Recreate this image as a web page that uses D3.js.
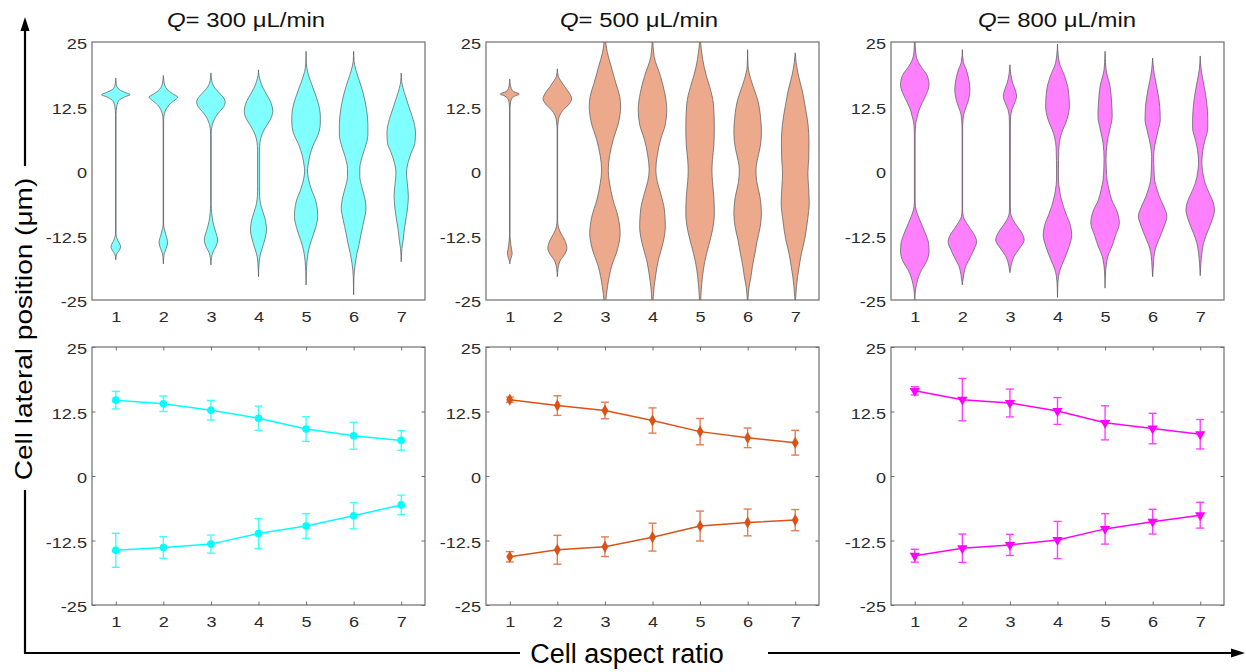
<!DOCTYPE html>
<html>
<head>
<meta charset="utf-8">
<script src="https://cdn.jsdelivr.net/npm/d3@7"></script>
<style>
  body { margin: 0; background: #fff; }
  svg { display: block; font-family: "Liberation Sans", Arial, sans-serif; }
  .tick text { fill: #2b2b2b; }
</style>
</head>
<body>
<div id="chart"></div>
<script>
(function () {
    "use strict";

    // ---- data ---------------------------------------------------------
    const categories = [1, 2, 3, 4, 5, 6, 7];          // cell aspect ratio
    const yTicks = [-25, -12.5, 0, 12.5, 25];
    const flowRates = [300, 500, 800];                  // Q, µL/min

    // violin profiles: [position (µm), half width (x units)]
    const violin300 = [
        [[18, 0], [17, 0.01], [16.4, 0.025], [15.8, 0.07], [15.2, 0.2], [14.8, 0.3], [14.4, 0.2], [13.8, 0.08], [13.2, 0.04], [12.5, 0.02], [11, 0.006], [-12, 0.006], [-12.7, 0.015], [-13.6, 0.05], [-14.3, 0.09], [-14.8, 0.1], [-15.4, 0.07], [-16, 0.025], [-16.5, 0.01], [-17.2, 0]],
        [[18.5, 0], [17.5, 0.01], [16.6, 0.03], [15.8, 0.08], [15, 0.19], [14.3, 0.3], [13.6, 0.22], [12.8, 0.12], [12, 0.06], [11.2, 0.025], [10.5, 0.01], [9.5, 0.005], [-10.5, 0.005], [-11.2, 0.02], [-12.3, 0.05], [-13.9, 0.09], [-15, 0.06], [-16, 0.02], [-16.8, 0.008], [-18, 0]],
        [[19, 0], [18, 0.01], [17, 0.03], [16, 0.09], [15, 0.19], [14, 0.28], [13.3, 0.3], [12.5, 0.27], [11.5, 0.18], [10.5, 0.1], [9.3, 0.04], [8.3, 0.015], [7, 0.006], [-6.5, 0.006], [-8, 0.015], [-10, 0.045], [-11.5, 0.09], [-13.4, 0.14], [-14.7, 0.1], [-15.8, 0.04], [-16.8, 0.012], [-18.2, 0]],
        [[19.6, 0], [18.5, 0.01], [17.4, 0.04], [16, 0.1], [15, 0.16], [13.5, 0.25], [11.5, 0.3], [10, 0.25], [8.5, 0.15], [7, 0.07], [5.5, 0.03], [4, 0.02], [-4, 0.02], [-5.6, 0.03], [-7, 0.06], [-9, 0.13], [-11.4, 0.17], [-13, 0.14], [-14.6, 0.09], [-16.5, 0.03], [-18, 0.012], [-20.5, 0]],
        [[23.2, 0], [21, 0.005], [19.3, 0.03], [17.5, 0.09], [15.5, 0.17], [13, 0.26], [10.5, 0.3], [9.3, 0.3], [7.5, 0.27], [5, 0.15], [3, 0.08], [1, 0.04], [0, 0.03], [-1.5, 0.05], [-3.5, 0.11], [-6, 0.21], [-8.8, 0.245], [-11, 0.2], [-13.5, 0.11], [-15.5, 0.05], [-17.5, 0.02], [-19.5, 0.006], [-22.1, 0]],
        [[23.2, 0], [21.2, 0.01], [19.5, 0.05], [17.5, 0.12], [15.1, 0.2], [12, 0.27], [9, 0.3], [7, 0.3], [4.5, 0.24], [2.5, 0.17], [0.5, 0.13], [-1.1, 0.13], [-3, 0.17], [-5.5, 0.24], [-7.2, 0.26], [-9.5, 0.22], [-12, 0.16], [-14, 0.12], [-16, 0.07], [-17.9, 0.035], [-20.5, 0.007], [-24, 0]],
        [[19, 0], [17.4, 0.01], [16, 0.04], [14.5, 0.09], [12.5, 0.16], [10, 0.25], [7.5, 0.3], [5.5, 0.29], [3.5, 0.21], [1.5, 0.14], [-0.4, 0.11], [-2.5, 0.13], [-4.9, 0.15], [-7, 0.135], [-8.8, 0.11], [-11, 0.07], [-13.4, 0.04], [-15, 0.015], [-17.6, 0]]
    ];
    const violin500 = [
        [[17.8, 0], [16.8, 0.01], [16, 0.03], [15.4, 0.08], [14.9, 0.2], [14.5, 0.1], [14, 0.04], [13.2, 0.014], [12, 0.005], [-12.5, 0.005], [-13.2, 0.01], [-14.5, 0.025], [-16, 0.05], [-16.8, 0.03], [-17.6, 0.005], [-18, 0]],
        [[19.8, 0], [18.3, 0.02], [17.5, 0.07], [16.4, 0.15], [15, 0.26], [14, 0.3], [13, 0.25], [11.9, 0.13], [10.8, 0.05], [9.3, 0.015], [8, 0.005], [-9.5, 0.005], [-10.8, 0.02], [-12, 0.07], [-13.5, 0.16], [-15, 0.2], [-16.2, 0.15], [-17.2, 0.07], [-18.9, 0.015], [-20.5, 0]],
        [[25.5, 0.01], [23, 0.05], [20.3, 0.13], [17, 0.23], [14.5, 0.31], [12.5, 0.33], [9.5, 0.29], [6.1, 0.175], [3, 0.1], [0.2, 0.07], [-2.5, 0.1], [-5.6, 0.17], [-9, 0.28], [-12.1, 0.32], [-15, 0.27], [-18.5, 0.14], [-22.4, 0.055], [-25.5, 0.015]],
        [[25.5, 0.005], [22.2, 0.035], [18.3, 0.17], [15, 0.26], [11.9, 0.3], [9, 0.27], [6.1, 0.17], [3, 0.1], [0.2, 0.07], [-2, 0.1], [-4.3, 0.17], [-7.5, 0.25], [-10.8, 0.27], [-14, 0.22], [-17.2, 0.125], [-20, 0.07], [-22.4, 0.035], [-25.5, 0.01]],
        [[25.5, 0.005], [21.6, 0.056], [18.5, 0.13], [16.4, 0.2], [13, 0.28], [8.6, 0.3], [5, 0.29], [2.2, 0.26], [0, 0.25], [-2, 0.26], [-5, 0.29], [-8.2, 0.3], [-11.5, 0.26], [-14.5, 0.18], [-17.5, 0.1], [-20.5, 0.05], [-23, 0.025], [-25.5, 0.01]],
        [[23.5, 0], [20.3, 0.01], [17.7, 0.07], [15.5, 0.15], [13.8, 0.21], [10.5, 0.27], [7.3, 0.29], [4.5, 0.26], [2, 0.2], [0.2, 0.175], [-2, 0.19], [-5, 0.26], [-8.2, 0.29], [-11, 0.26], [-13.5, 0.2], [-15.9, 0.155], [-18.5, 0.1], [-20.5, 0.07], [-22.5, 0.03], [-24.5, 0.01], [-25.5, 0.005]],
        [[22.9, 0], [21, 0.02], [19, 0.056], [15.5, 0.15], [12.5, 0.21], [9, 0.27], [5.4, 0.29], [2.5, 0.285], [-0.4, 0.266], [-3, 0.28], [-6.2, 0.295], [-9.5, 0.26], [-13.4, 0.196], [-16, 0.13], [-18.5, 0.084], [-20.5, 0.05], [-22.4, 0.028], [-24.5, 0.01], [-25.5, 0.005]]
    ];
    const violin800 = [
        [[25.5, 0.005], [22.9, 0.02], [21.2, 0.07], [20.3, 0.126], [18.5, 0.26], [16.7, 0.3], [15, 0.25], [13.2, 0.154], [11.5, 0.08], [10.6, 0.056], [9.5, 0.025], [8.6, 0.014], [7, 0.008], [-6, 0.008], [-6.9, 0.014], [-8.2, 0.05], [-9.5, 0.105], [-12.1, 0.224], [-14, 0.29], [-15.6, 0.3], [-17.5, 0.25], [-19.2, 0.14], [-20.5, 0.08], [-21.8, 0.042], [-23.5, 0.01], [-25.5, 0]],
        [[23.5, 0], [21.2, 0.02], [19.6, 0.084], [18, 0.13], [15.75, 0.16], [13.8, 0.13], [12.5, 0.084], [11, 0.03], [9.9, 0.014], [8, 0.006], [-7.5, 0.006], [-8.8, 0.02], [-10.8, 0.14], [-12.5, 0.26], [-13.7, 0.3], [-15.3, 0.24], [-17.2, 0.14], [-18.5, 0.07], [-19.8, 0.035], [-22.1, 0]],
        [[20.6, 0], [18.7, 0.02], [17, 0.06], [15.5, 0.12], [14.5, 0.14], [13.2, 0.1], [11.9, 0.042], [10.5, 0.015], [9.3, 0.01], [-7, 0.008], [-8.2, 0.015], [-10.1, 0.105], [-11.7, 0.23], [-13.4, 0.3], [-15, 0.2], [-16.6, 0.084], [-18.5, 0.021], [-19.7, 0]],
        [[24.6, 0], [22.5, 0.015], [20.9, 0.042], [18.3, 0.154], [15.5, 0.23], [12.5, 0.25], [10, 0.2], [7.3, 0.084], [5.5, 0.04], [4.1, 0.028], [0, 0.02], [-1.75, 0.021], [-3.5, 0.04], [-5.6, 0.084], [-8.2, 0.175], [-10.5, 0.27], [-12.4, 0.3], [-14.5, 0.25], [-17.2, 0.14], [-19, 0.06], [-20.5, 0.021], [-22.5, 0.005], [-24.5, 0]],
        [[23.2, 0], [21, 0.01], [19.6, 0.021], [16.4, 0.105], [13, 0.14], [10.6, 0.15], [8, 0.1], [5.4, 0.042], [2.2, 0.021], [0, 0.028], [-1.75, 0.042], [-3.5, 0.08], [-5.6, 0.14], [-8, 0.26], [-10.1, 0.3], [-12.5, 0.22], [-14.7, 0.14], [-16.5, 0.06], [-17.2, 0.042], [-19.2, 0.014], [-22.7, 0]],
        [[21.9, 0], [19.6, 0.021], [17.5, 0.06], [15.75, 0.098], [12.5, 0.15], [9.9, 0.16], [8, 0.12], [6.05, 0.07], [4, 0.03], [2.8, 0.021], [0, 0.03], [-1.75, 0.042], [-3.5, 0.09], [-4.9, 0.14], [-7, 0.24], [-8.8, 0.3], [-10.5, 0.25], [-13.4, 0.126], [-15, 0.06], [-16.6, 0.028], [-18.5, 0.014], [-20.5, 0]],
        [[22.3, 0], [19.6, 0.021], [18, 0.05], [16.4, 0.084], [13, 0.14], [10, 0.16], [8.3, 0.16], [6, 0.1], [4.75, 0.07], [1.5, 0.035], [0, 0.05], [-2.4, 0.105], [-4.5, 0.2], [-6, 0.27], [-7.5, 0.3], [-9.5, 0.25], [-12.1, 0.14], [-14, 0.07], [-15.9, 0.035], [-17.9, 0.014], [-20.3, 0]]
    ];

    // mean lateral position of the upper / lower cell populations, with error
    const upper300 = [14.7, 14.0, 12.75, 11.2, 9.1, 7.8, 6.9];
    const upper300Err = [1.7, 1.5, 1.9, 2.35, 2.4, 2.6, 1.9];
    const lower300 = [-14.4, -13.85, -13.2, -11.15, -9.7, -7.7, -5.6];
    const lower300Err = [3.3, 2.1, 1.75, 2.9, 2.4, 2.55, 1.9];

    const upper500 = [14.8, 13.65, 12.7, 10.75, 8.6, 7.4, 6.45];
    const upper500Err = [0.5, 1.9, 1.6, 2.45, 2.55, 1.9, 2.4];
    const lower500 = [-15.65, -14.3, -13.7, -11.85, -9.7, -9.0, -8.55];
    const lower500Err = [1.0, 2.8, 1.9, 2.7, 2.9, 2.6, 2.05];

    const upper800 = [16.5, 14.8, 14.15, 12.6, 10.3, 9.2, 8.1];
    const upper800Err = [0.8, 4.1, 2.7, 2.6, 3.3, 2.95, 2.85];
    const lower800 = [-15.45, -14.0, -13.35, -12.4, -10.25, -8.85, -7.6];
    const lower800Err = [1.25, 2.75, 2.05, 3.6, 2.95, 2.4, 2.5];

    // ---- layout -------------------------------------------------------
    const W = 1246, H = 672;
    const colLeft = [92, 486, 891];
    const rowTop = [42, 347];
    const pw = 333, ph = 258;
    const titleX = [246, 639, 1057];

    const lineColors = ["#00ffff", "#d95319", "#ff00ff"];
    const violinFills = ["#80ffff", "#eca98c", "#ff80ff"];
    const markers = [d3.symbolCircle, d3.symbolDiamond, d3.symbolTriangle];
    const violinSets = [violin300, violin500, violin800];
    const means = [
        [[upper300, upper300Err], [lower300, lower300Err]],
        [[upper500, upper500Err], [lower500, lower500Err]],
        [[upper800, upper800Err], [lower800, lower800Err]]
    ];

    const svg = d3.select("#chart").append("svg")
        .attr("width", W)
        .attr("height", H);

    const x = d3.scaleLinear().domain([0.5, 7.5]).range([0, pw]);
    const y = d3.scaleLinear().domain([-25, 25]).range([ph, 0]);

    // text here is a bit wider than the plain font, stretch it horizontally
    function stretch(sel, k) {
        sel.each(function () {
            const t = d3.select(this);
            const tx = +t.attr("x") || 0;
            t.attr("x", 0).attr("transform", `translate(${tx},0) scale(${k},1)`);
        });
    }

    function drawAxes(g, withTicks) {
        const tick = withTicks ? -3.5 : 0;
        const ya = g.append("g")
            .call(d3.axisLeft(y).tickValues(yTicks).tickFormat((d) => String(d))
                .tickSizeInner(tick).tickSizeOuter(0).tickPadding(5));
        const xa = g.append("g")
            .attr("transform", `translate(0,${ph})`)
            .call(d3.axisBottom(x).tickValues(categories).tickFormat((d) => String(d))
                .tickSizeInner(tick).tickSizeOuter(0).tickPadding(11));
        [ya, xa].forEach((a) => {
            a.select(".domain").remove();
            a.selectAll(".tick line").attr("stroke", "#6e6e6e");
            a.selectAll(".tick text")
                .attr("font-size", 15.5)
                .attr("font-family", "'Liberation Sans', Arial, sans-serif");
        });
        ya.selectAll(".tick text").attr("dy", "0.45em");
        stretch(ya.selectAll(".tick text"), 1.17);
        stretch(xa.selectAll(".tick text"), 1.17);

        if (withTicks) {
            g.append("g")
                .attr("transform", `translate(${pw},0)`)
                .call(d3.axisRight(y).tickValues(yTicks).tickFormat("")
                    .tickSizeInner(-3.5).tickSizeOuter(0))
                .call((a) => a.select(".domain").remove())
                .selectAll("line").attr("stroke", "#6e6e6e");
            g.append("g")
                .call(d3.axisTop(x).tickValues(categories).tickFormat("")
                    .tickSizeInner(-3.5).tickSizeOuter(0))
                .call((a) => a.select(".domain").remove())
                .selectAll("line").attr("stroke", "#6e6e6e");
        }

        g.append("rect")
            .attr("width", pw)
            .attr("height", ph)
            .attr("fill", "none")
            .attr("stroke", "#6e6e6e")
            .attr("stroke-width", 1.2);
    }

    flowRates.forEach(function (q, c) {
        // ---------- violins ----------
        svg.append("clipPath")
            .attr("id", "clip" + c)
            .append("rect")
            .attr("width", pw)
            .attr("height", ph);

        const gv = svg.append("g")
            .attr("transform", `translate(${colLeft[c]},${rowTop[0]})`);

        const vg = gv.append("g")
            .attr("clip-path", `url(#clip${c})`);

        violinSets[c].forEach(function (profile, i) {
            const cx = categories[i];
            const area = d3.area()
                .curve(d3.curveMonotoneY)
                .y((d) => y(d[0]))
                .x0((d) => x(cx - d[1]))
                .x1((d) => x(cx + d[1]));
            vg.append("path")
                .attr("d", area(profile))
                .attr("fill", violinFills[c])
                .attr("stroke", "#555")
                .attr("stroke-width", 0.7);
        });

        drawAxes(gv, false);

        // title
        const t = svg.append("text")
            .attr("text-anchor", "middle")
            .attr("font-size", 21)
            .attr("fill", "#111")
            .attr("transform", `translate(${titleX[c]},27) scale(1.14,1)`);
        t.append("tspan").attr("font-style", "italic").text("Q");
        t.append("tspan").text(`= ${q} μL/min`);

        // ---------- means with error bars ----------
        const gm = svg.append("g")
            .attr("transform", `translate(${colLeft[c]},${rowTop[1]})`);

        const col = lineColors[c];
        means[c].forEach(function (pair) {
            const vals = pair[0], errs = pair[1];
            const pts = categories.map((k, i) => ({ k: k, v: vals[i], e: errs[i] }));

            const eb = gm.append("g")
                .attr("stroke", col)
                .attr("stroke-width", 1.4)
                .attr("opacity", 0.75);
            eb.selectAll(null).data(pts).enter().append("line")
                .attr("x1", (d) => x(d.k)).attr("x2", (d) => x(d.k))
                .attr("y1", (d) => y(d.v - d.e)).attr("y2", (d) => y(d.v + d.e));
            [-1, 1].forEach(function (s) {
                eb.selectAll(null).data(pts).enter().append("line")
                    .attr("x1", (d) => x(d.k) - 4).attr("x2", (d) => x(d.k) + 4)
                    .attr("y1", (d) => y(d.v + s * d.e)).attr("y2", (d) => y(d.v + s * d.e));
            });

            gm.append("path")
                .datum(pts)
                .attr("fill", "none")
                .attr("stroke", col)
                .attr("stroke-width", 1.5)
                .attr("d", d3.line().x((d) => x(d.k)).y((d) => y(d.v)));

            const sym = d3.symbol().type(markers[c]).size(c === 1 ? 42 : 46);
            gm.selectAll(null).data(pts).enter().append("path")
                .attr("d", sym())
                .attr("fill", col)
                .attr("transform", (d) => `translate(${x(d.k)},${y(d.v)})` + (c === 2 ? " rotate(180)" : ""));
        });

        drawAxes(gm, true);
    });

    // ---------- shared axis labels and arrows ----------
    const arrow = svg.append("g").attr("stroke", "#000").attr("stroke-width", 2.2).attr("fill", "none");
    arrow.append("line").attr("x1", 25).attr("x2", 25).attr("y1", 166).attr("y2", 28);
    arrow.append("line").attr("x1", 25).attr("x2", 25).attr("y1", 490).attr("y2", 653);
    arrow.append("line").attr("x1", 24).attr("x2", 520).attr("y1", 653).attr("y2", 653);
    arrow.append("line").attr("x1", 768).attr("x2", 1234).attr("y1", 653).attr("y2", 653);
    svg.append("path").attr("d", "M25,17 L29.5,31 L20.5,31 Z").attr("fill", "#000");
    svg.append("path").attr("d", "M1245,653 L1231,657.5 L1231,648.5 Z").attr("fill", "#000");

    svg.append("text")
        .attr("text-anchor", "middle")
        .attr("font-size", 27)
        .attr("fill", "#000")
        .attr("x", 627)
        .attr("y", 663)
        .text("Cell aspect ratio");

    svg.append("text")
        .attr("text-anchor", "middle")
        .attr("font-size", 28)
        .attr("fill", "#000")
        .attr("transform", "translate(32,329) rotate(-90) scale(1,0.86)")
        .text("Cell lateral position (μm)");
})();
</script>
</body>
</html>
